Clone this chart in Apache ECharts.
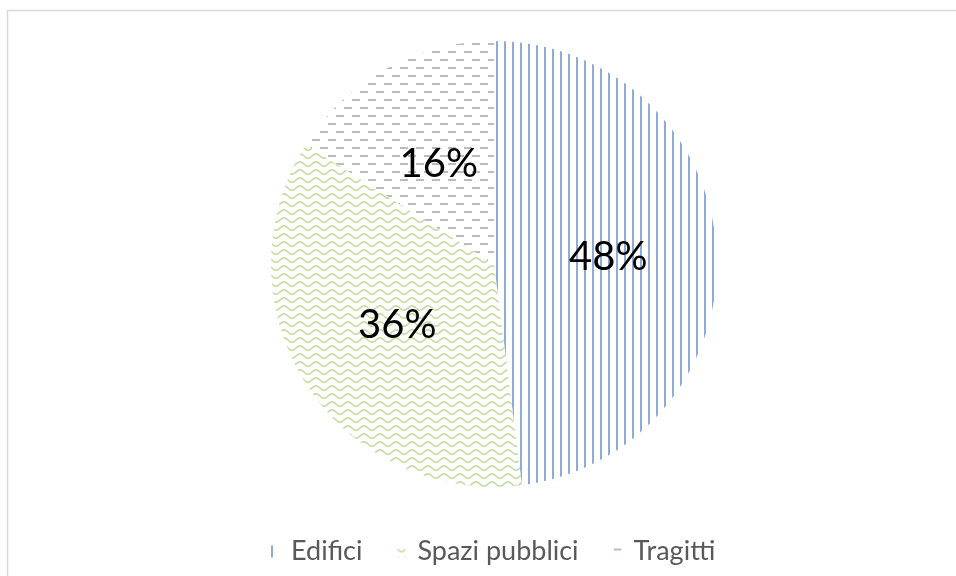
<!DOCTYPE html>
<html>
<head>
<meta charset="utf-8">
<script src="https://cdn.jsdelivr.net/npm/echarts@6/dist/echarts.min.js"></script>
<style>
  html, body { margin: 0; padding: 0; background: #fff; }
  #chart { width: 956px; height: 576px; }
</style>
</head>
<body>
<div id="chart"></div>
<script>
// Share of interventions by category
const categories = ['Edifici', 'Spazi pubblici', 'Tragitti'];
const shares = [48, 36, 16];

// Hatch fills: vertical stripes, wavy lines, staggered dashes
function stripeTile() {
  const c = document.createElement('canvas');
  c.width = 8; c.height = 8;
  const g = c.getContext('2d');
  g.fillStyle = '#fff'; g.fillRect(0, 0, 8, 8);
  g.fillStyle = '#8FABD9'; g.fillRect(0, 0, 2, 8);
  return c;
}
function waveTile() {
  const c = document.createElement('canvas');
  c.width = 16; c.height = 8;
  const g = c.getContext('2d');
  g.fillStyle = '#fff'; g.fillRect(0, 0, 16, 8);
  g.strokeStyle = '#C3DDA3'; g.lineWidth = 1.7;
  g.beginPath();
  for (let x = 0; x <= 16; x += 0.5) {
    const y = 4 + 2.2 * Math.sin(x / 16 * Math.PI * 2);
    if (x === 0) g.moveTo(x, y); else g.lineTo(x, y);
  }
  g.stroke();
  return c;
}
function dashTile() {
  const c = document.createElement('canvas');
  c.width = 16; c.height = 16;
  const g = c.getContext('2d');
  g.fillStyle = '#fff'; g.fillRect(0, 0, 16, 16);
  g.fillStyle = '#BBBBBB';
  g.fillRect(0, 3, 8, 2);
  g.fillRect(8, 11, 8, 2);
  return c;
}

const fills = [
  { image: stripeTile(), repeat: 'repeat' },
  { image: waveTile(), repeat: 'repeat' },
  { image: dashTile(), repeat: 'repeat' }
];

const chart = echarts.init(document.getElementById('chart'), null, { renderer: 'canvas' });
chart.setOption({
  backgroundColor: '#fff',
  animation: false,
  graphic: [{
    type: 'rect',
    shape: { x: 7.5, y: 10.5, width: 1000, height: 1000 },
    style: { fill: 'none', stroke: '#D9D9D9', lineWidth: 1.5 },
    silent: true
  }],
  legend: {
    top: 533,
    left: 266,
    itemWidth: 8,
    itemHeight: 12,
    itemGap: 35,
    icon: 'rect',
    textStyle: { fontFamily: 'Lato', fontSize: 27, color: '#595959', padding: [0, 0, 0, 7] },
    data: categories
  },
  series: [{
    type: 'pie',
    center: [494, 264],
    radius: 223,
    startAngle: 90,
    clockwise: true,
    label: {
      show: true,
      position: 'inside',
      formatter: '{d}%',
      fontFamily: 'Lato',
      fontSize: 40,
      color: '#000'
    },
    labelLine: { show: false },
    emphasis: { disabled: true },
    itemStyle: { borderWidth: 0 },
    data: categories.map((name, i) => ({
      name: name,
      value: shares[i],
      itemStyle: { color: fills[i] }
    }))
  }]
});
</script>
</body>
</html>
